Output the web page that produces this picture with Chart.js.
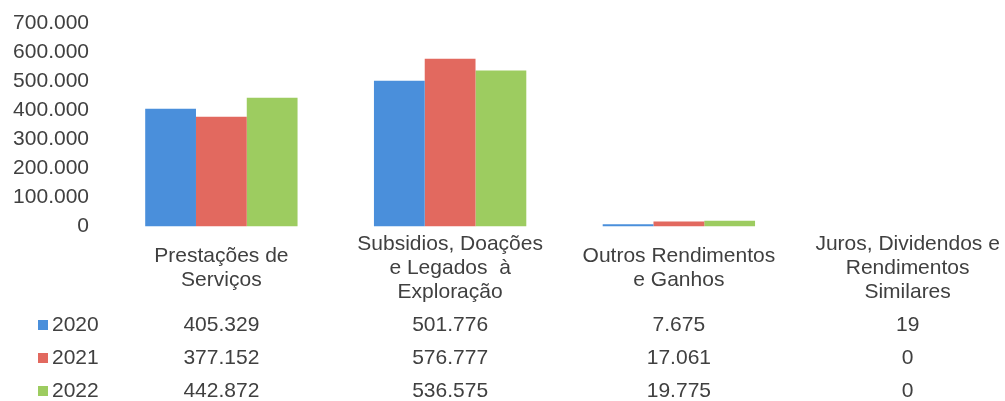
<!DOCTYPE html>
<html>
<head>
<meta charset="utf-8">
<script src="https://cdn.jsdelivr.net/npm/chart.js@4"></script>
<style>
  html, body { margin: 0; padding: 0; background: #fff; overflow: hidden; }
  #wrap { position: relative; width: 1024px; height: 401px; }
</style>
</head>
<body>
<div id="wrap"><canvas id="c"></canvas></div>
<script>
const categories = [
  ["Prestações de", "Serviços"],
  ["Subsidios, Doações", "e Legados  à", "Exploração"],
  ["Outros Rendimentos", "e Ganhos"],
  ["Juros, Dividendos e", "Rendimentos", "Similares"]
];
const seriesNames = ["2020", "2021", "2022"];
const values2020 = [405329, 501776, 7675, 19];
const values2021 = [377152, 576777, 17061, 0];
const values2022 = [442872, 536575, 19775, 0];
const seriesColors = ["#4a8fdb", "#e2695f", "#9dcc60"];
const yTicks = [0, 100000, 200000, 300000, 400000, 500000, 600000, 700000];

const TEXT = "#404040";
const FONT = "21px 'Liberation Sans', Arial, sans-serif";

function fmt(n) {
  return String(n).replace(/\B(?=(\d{3})+(?!\d))/g, ".");
}

const seriesValues = [values2020, values2021, values2022];

const tablePlugin = {
  id: "dataTable",
  afterDraw(chart) {
    const ctx = chart.ctx;
    const x = chart.scales.x;
    ctx.save();
    ctx.font = FONT;
    ctx.fillStyle = TEXT;
    ctx.textAlign = "center";
    ctx.textBaseline = "middle";
    const lineH = 24;
    const labelCenter = 268;
    categories.forEach((lines, i) => {
      const cx = x.getPixelForValue(i);
      const y0 = labelCenter - (lines.length - 1) * lineH / 2;
      lines.forEach((t, k) => ctx.fillText(t, cx, y0 + k * lineH));
    });
    const rowY = [325, 358, 391];
    seriesNames.forEach((name, r) => {
      const y = rowY[r];
      ctx.fillStyle = seriesColors[r];
      ctx.fillRect(38, y - 5, 10, 10);
      ctx.fillStyle = TEXT;
      ctx.textAlign = "left";
      ctx.fillText(name, 52, y);
      ctx.textAlign = "center";
      seriesValues[r].forEach((v, i) => {
        ctx.fillText(fmt(v), x.getPixelForValue(i), y);
      });
    });
    ctx.restore();
  }
};

new Chart(document.getElementById("c"), {
  type: "bar",
  data: {
    labels: categories.map(c => c.join(" ")),
    datasets: seriesNames.map((n, i) => ({
      label: n,
      data: seriesValues[i],
      backgroundColor: seriesColors[i],
      borderWidth: 0,
      categoryPercentage: 0.666,
      barPercentage: 1.0
    }))
  },
  options: {
    responsive: true,
    maintainAspectRatio: false,
    animation: false,
    layout: { padding: { top: 23, bottom: 174.5, left: 0, right: 2 } },
    plugins: { legend: { display: false }, tooltip: { enabled: false } },
    scales: {
      x: {
        ticks: { display: false },
        grid: { display: false, drawTicks: false },
        border: { display: false }
      },
      y: {
        min: 0,
        max: 700000,
        afterFit(scale) { scale.width = 107; scale.paddingTop = 0; scale.paddingBottom = 0; },
        afterBuildTicks(scale) { scale.ticks = yTicks.map(v => ({ value: v })); },
        ticks: {
          padding: 18,
          color: TEXT,
          font: { family: "'Liberation Sans', Arial, sans-serif", size: 21 },
          callback: v => fmt(v)
        },
        grid: { display: false, drawTicks: false },
        border: { display: false }
      }
    }
  },
  plugins: [tablePlugin]
});
</script>
</body>
</html>
